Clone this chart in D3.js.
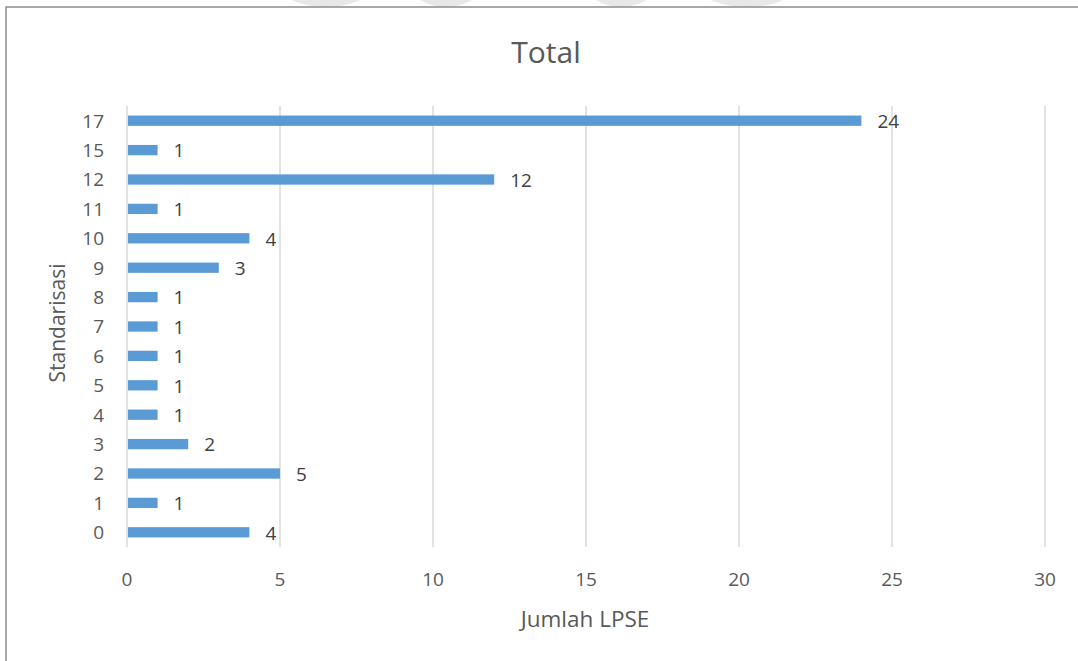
<!DOCTYPE html>
<html>
<head>
<meta charset="utf-8">
<script src="https://cdn.jsdelivr.net/npm/d3@7"></script>
<style>
  html, body { margin: 0; padding: 0; background: #fff; }
  svg { display: block; font-family: "Open Sans", "Noto Sans", sans-serif; }
</style>
</head>
<body>
<svg id="chart" width="1078" height="661"></svg>
<script>
// values
var categories = ["17", "15", "12", "11", "10", "9", "8", "7", "6", "5", "4", "3", "2", "1", "0"];
var totals     = [24, 1, 12, 1, 4, 3, 1, 1, 1, 1, 1, 2, 5, 1, 4];
var xTicks     = [0, 5, 10, 15, 20, 25, 30];

var chartTitle = "Total";
var xTitle = "Jumlah LPSE";
var yTitle = "Standarisasi";

var width = 1078, height = 661;
var plot = {left: 127, right: 1045, top: 106, bottom: 547};

var svg = d3.select("#chart");

// faint watermark shapes peeking above the chart frame
var marks = [{cx: 326, rx: 66}, {cx: 446, rx: 50}, {cx: 621, rx: 48}, {cx: 747, rx: 70}];
svg.append("g").selectAll("ellipse")
    .data(marks)
    .enter().append("ellipse")
    .attr("cx", function(d) { return d.cx; })
    .attr("cy", -40)
    .attr("rx", function(d) { return d.rx; })
    .attr("ry", 47)
    .attr("fill", "#e8e8e8");

// chart frame (only top and left edges are visible in the crop)
svg.append("rect")
    .attr("x", 6).attr("y", 7)
    .attr("width", width + 20).attr("height", height + 20)
    .attr("fill", "#fff")
    .attr("stroke", "#8c8c8c")
    .attr("stroke-width", 1.5);

var x = d3.scaleLinear().domain([0, 30]).range([plot.left, plot.right]);
var y = d3.scaleBand().domain(categories).range([plot.top, plot.bottom]).paddingInner(0.65).paddingOuter(0.325);

// gridlines
svg.append("g").selectAll("line")
    .data(xTicks)
    .enter().append("line")
    .attr("x1", function(d) { return x(d); })
    .attr("x2", function(d) { return x(d); })
    .attr("y1", plot.top)
    .attr("y2", plot.bottom)
    .attr("stroke", "#d9d9d9")
    .attr("stroke-width", 1.5);

// bars
svg.append("g").selectAll("rect")
    .data(totals)
    .enter().append("rect")
    .attr("x", x(0) + 1)
    .attr("y", function(d, i) { return y(categories[i]); })
    .attr("width", function(d) { return x(d) - x(0) - 1; })
    .attr("height", y.bandwidth())
    .attr("fill", "#5b9bd5");

// value labels
svg.append("g").selectAll("text")
    .data(totals)
    .enter().append("text")
    .attr("x", function(d) { return x(d) + 16; })
    .attr("y", function(d, i) { return y(categories[i]) + y.bandwidth() / 2; })
    .attr("dy", "0.38em")
    .attr("font-size", 19)
    .attr("fill", "#404040")
    .text(function(d) { return d; });

// y tick labels
svg.append("g").selectAll("text")
    .data(categories)
    .enter().append("text")
    .attr("x", 104)
    .attr("y", function(d) { return y(d) + y.bandwidth() / 2; })
    .attr("dy", "0.36em")
    .attr("text-anchor", "end")
    .attr("font-size", 19)
    .attr("fill", "#595959")
    .text(function(d) { return d; });

// x tick labels
svg.append("g").selectAll("text")
    .data(xTicks)
    .enter().append("text")
    .attr("x", function(d) { return x(d); })
    .attr("y", 579)
    .attr("dy", "0.36em")
    .attr("text-anchor", "middle")
    .attr("font-size", 19)
    .attr("fill", "#595959")
    .text(function(d) { return d; });

// titles
svg.append("text")
    .attr("x", 546).attr("y", 52)
    .attr("dy", "0.36em")
    .attr("text-anchor", "middle")
    .attr("font-size", 30)
    .attr("fill", "#595959")
    .text(chartTitle);

svg.append("text")
    .attr("x", 585).attr("y", 619)
    .attr("dy", "0.36em")
    .attr("text-anchor", "middle")
    .attr("font-size", 22.5)
    .attr("fill", "#595959")
    .text(xTitle);

svg.append("text")
    .attr("transform", "translate(57,323) rotate(-90)")
    .attr("dy", "0.36em")
    .attr("text-anchor", "middle")
    .attr("font-size", 21)
    .attr("fill", "#595959")
    .text(yTitle);
</script>
</body>
</html>
